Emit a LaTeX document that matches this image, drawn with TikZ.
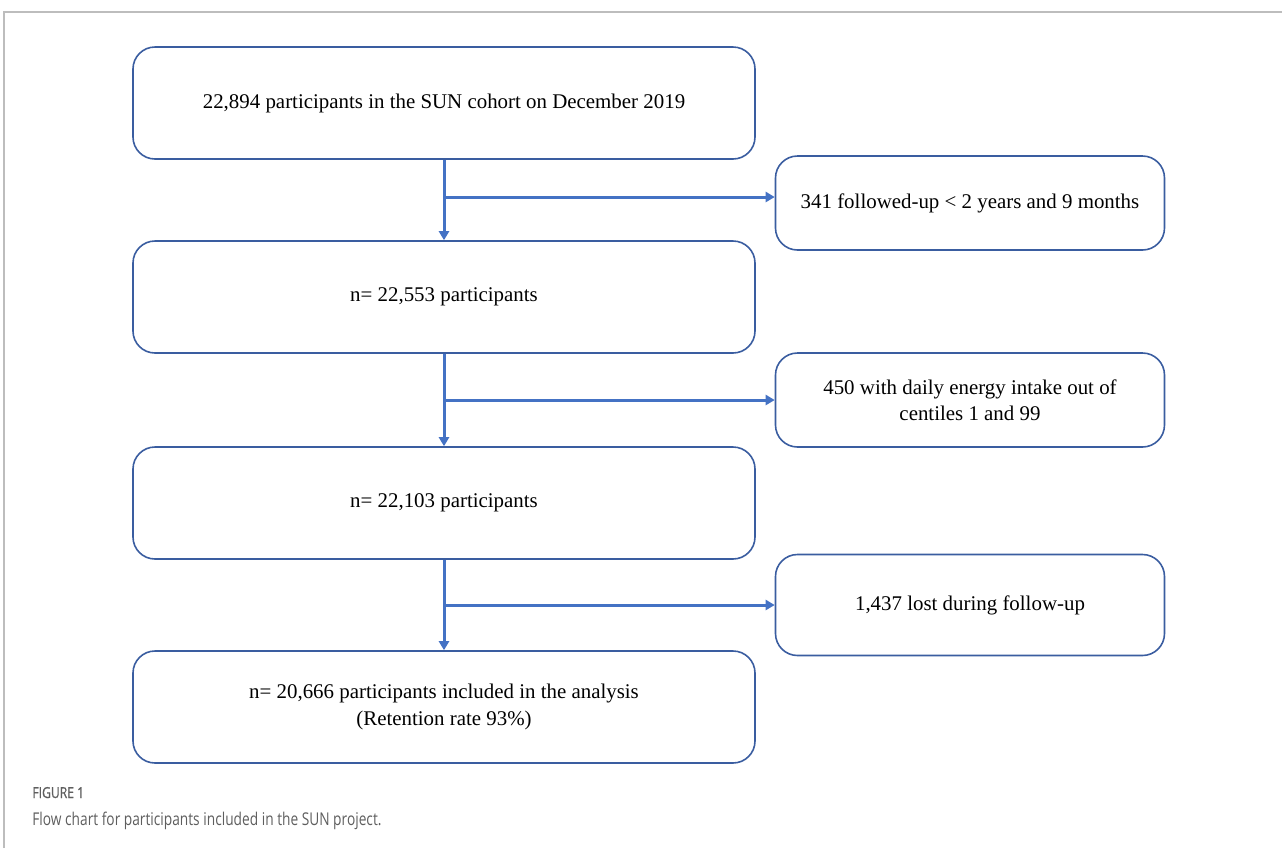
\documentclass[tikz,border=0pt]{standalone}
\usepackage{fontspec}
\setmainfont{Liberation Serif}
\newfontfamily\capfont[FakeStretch=0.78]{Open Sans}
\newfontfamily\caplabelfont[FakeStretch=0.8,FakeBold=0.9]{Open Sans}
\usetikzlibrary{arrows.meta}
\definecolor{boxblue}{HTML}{3A5DA0}
\definecolor{arrowblue}{HTML}{4472C4}
\definecolor{framegray}{HTML}{BDBDBD}
\definecolor{capgray}{HTML}{5E5E5E}
\tikzset{
  stage/.style={draw=boxblue, line width=0.8pt, rounded corners=11pt, align=center,
    minimum width=311pt, minimum height=56pt, font=\fontsize{10.45}{13.2}\selectfont},
  excluded/.style={draw=boxblue, line width=0.8pt, rounded corners=11pt, align=center,
    minimum width=194.5pt, minimum height=47pt, font=\fontsize{10.45}{13.2}\selectfont},
  flow/.style={draw=arrowblue, line width=1.5pt, -{Triangle[length=4.5pt,width=5pt]}}
}
\begin{document}
\begin{tikzpicture}[x=0.5pt, y=-0.5pt]
  \useasboundingbox (0,0) rectangle (1282,848);
  % frame
  \draw[framegray, line width=0.6pt] (4,848) -- (4,12) -- (1282,12);
  %nodes
  \node[stage] at (444,103) (cohort) {22,894 participants in the SUN cohort on December 2019};
  \node[stage] at (444,297) (first) {n= 22,553 participants};
  \node[stage] at (444,503) (second) {n= 22,103 participants};
  \node[stage] at (444,707) (final) {n= 20,666 participants included in the analysis\\(Retention rate 93\%)};
  \node[excluded] at (970,203) (short) {341 followed-up < 2 years and 9 months};
  \node[excluded] at (970,400) (energy) {450 with daily energy intake out of\\centiles 1 and 99};
  \node[excluded, minimum height=50.5pt] at (970,605) (lost) {1,437 lost during follow-up};
  \coordinate (split1) at (444,197);
  \coordinate (split2) at (444,400);
  \coordinate (split3) at (444,605);
  % connectors
  \path
      (cohort.south) edge[flow] (first.north)
      (first.south) edge[flow] (second.north)
      (second.south) edge[flow] (final.north)
      (split1) edge[flow] (split1 -| short.west)
      (split2) edge[flow] (energy.west)
      (split3) edge[flow] (lost.west);
  % caption
  \node[anchor=base west, inner sep=0pt, text=capgray, font=\caplabelfont\fontsize{7.6}{8}\selectfont] at (32,798) (figlabel) {FIGURE 1};
  \node[anchor=base west, inner sep=0pt, text=capgray, font=\capfont\fontsize{8.8}{11}\selectfont] at (32,825) (figcaption) {Flow chart for participants included in the SUN project.};
\end{tikzpicture}
\end{document}
